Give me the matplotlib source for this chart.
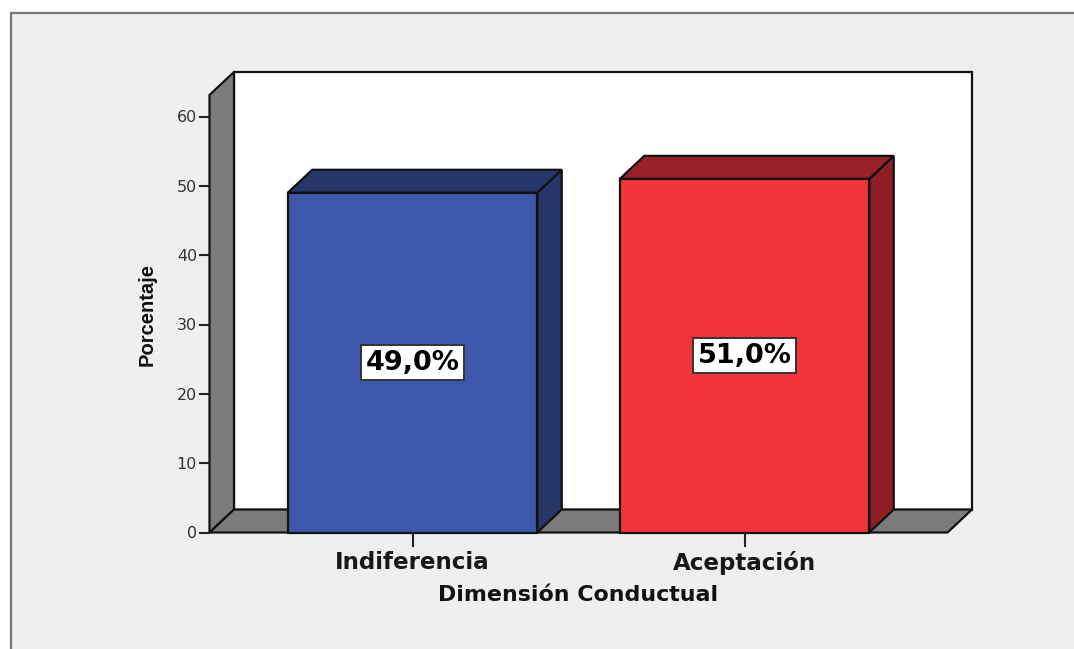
import matplotlib
matplotlib.use("Agg")
import matplotlib.pyplot as plt
from matplotlib.patches import Polygon, Rectangle

categories = ["Indiferencia", "Aceptación"]
values = [49.0, 51.0]
value_labels = ["49,0%", "51,0%"]
y_ticks = [0, 10, 20, 30, 40, 50, 60]
front = ["#3d58aa", "#f4343b"]
top = ["#263669", "#97202a"]
side = ["#263669", "#8e1f25"]
wall = "#7b7b7b"
edge = "#111111"

W, H = 1074, 649
fig = plt.figure(figsize=(W / 100, H / 100), dpi=100, facecolor="white")
frame = Rectangle((10.5 / W, -0.01), 1.1, (H - 12.5) / H + 0.01, transform=fig.transFigure,
                  facecolor="#efefef", edgecolor="#777777", lw=1.6, zorder=-5)
fig.add_artist(frame)

x0, x1, y0, ytop = 209.5, 947.5, 532.5, 95.0
ax = fig.add_axes([x0 / W, (H - y0) / H, (x1 - x0) / W, (y0 - ytop) / H])
ax.patch.set_visible(False)
px_y = (532.5 - 116.5) / 60
px_x = 332.0
ax.set_ylim(0, (y0 - ytop) / px_y)
xl = 0 - (412.5 - x0) / px_x
xr = 1 + (x1 - 744.5) / px_x
ax.set_xlim(xl, xr)
dx = 24.5 / px_x
dy = 23.0 / px_y
yt = (y0 - ytop) / px_y
lw = 1.6


def poly(pts, fc, z=1):
    ax.add_patch(Polygon(pts, closed=True, facecolor=fc, edgecolor=edge, lw=lw, zorder=z,
                         clip_on=False, joinstyle="miter"))


# back wall, left wall, floor
poly([(xl + dx, dy), (xr + dx, dy), (xr + dx, yt + dy), (xl + dx, yt + dy)], "white", 1)
poly([(xl, 0), (xl + dx, dy), (xl + dx, yt + dy), (xl, yt)], wall, 1.1)
poly([(xl, 0), (xr, 0), (xr + dx, dy), (xl + dx, dy)], wall, 1.2)

bar_w = 249.5 / px_x
xs = list(range(len(categories)))
for i, (c, v) in enumerate(zip(xs, values)):
    a, b = c - bar_w / 2, c + bar_w / 2
    poly([(b, 0), (b + dx, dy), (b + dx, v + dy), (b, v)], side[i], 2)
    poly([(a, v), (b, v), (b + dx, v + dy), (a + dx, v + dy)], top[i], 2)
ax.bar(xs, values, width=bar_w, color=front, edgecolor=edge, lw=lw, zorder=3, clip_on=False)

for c, v, t in zip(xs, values, value_labels):
    ax.text(c, v / 2, t, ha="center", va="center", fontsize=19.5, fontweight="bold",
            family="DejaVu Sans", color="black", zorder=5,
            bbox=dict(boxstyle="square,pad=0.16", facecolor="white", edgecolor="#333333", lw=1.4))

for s in ax.spines.values():
    s.set_visible(False)
ax.set_yticks(y_ticks)
ax.set_xticks(xs, categories)
ax.tick_params(axis="y", length=8, width=1.5, color="#222222", pad=1, labelsize=11.5, labelcolor="#333333")
ax.tick_params(axis="x", length=10, width=1.5, color="#222222", pad=3, labelsize=16.6, labelcolor="#181818")
for t in ax.get_yticklabels():
    t.set_family("DejaVu Sans")
for t in ax.get_xticklabels():
    t.set_family("DejaVu Sans")
    t.set_fontweight("bold")

fig.text(578.5 / W, 1 - 595 / H, "Dimensión Conductual", ha="center", va="center", fontsize=15.9,
         fontweight="bold", family="DejaVu Sans", color="#111111")
fig.text(147 / W, 1 - 314 / H, "Porcentaje", ha="center", va="center", rotation=90, fontsize=14.5,
         fontweight="bold", family="Liberation Sans", color="#111111")

fig.savefig("out.png", dpi=100, facecolor=fig.get_facecolor())
